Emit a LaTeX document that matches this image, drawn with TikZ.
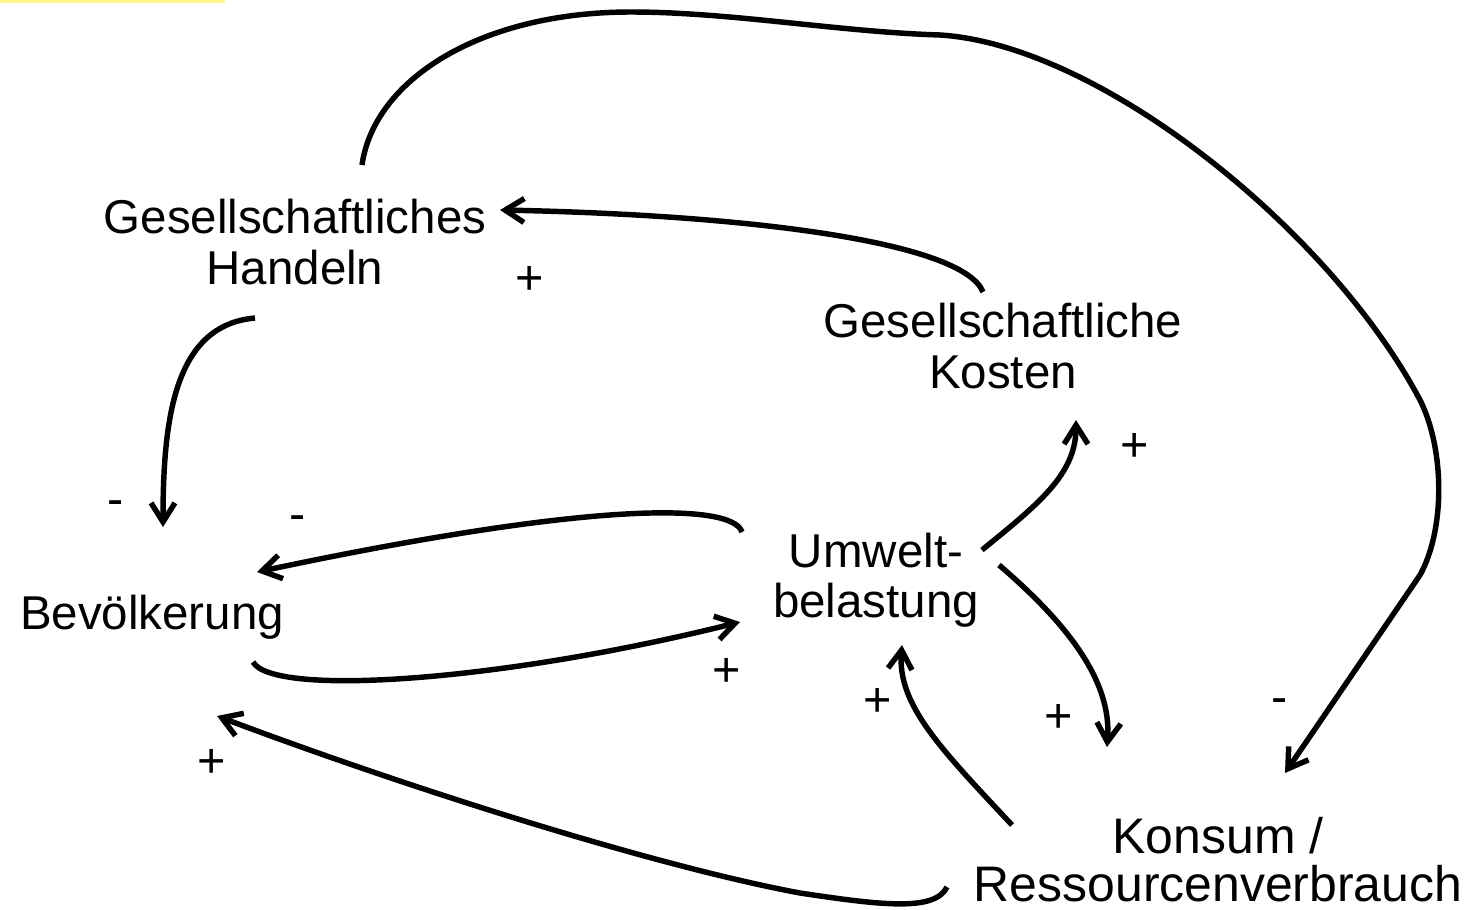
\documentclass[tikz,border=0pt]{standalone}
\usepackage{fontspec}
\setmainfont{Liberation Sans}
\usetikzlibrary{arrows.meta, calc}

\begin{document}
\begin{tikzpicture}[x=0.01cm, y=0.01cm,
  >={Straight Barb[length=5.4pt,width=6.8pt]},
  faktor/.style={align=center, inner sep=0pt, font=\fontsize{13.5}{14.3}\selectfont},
  wirkung/.style={->, line width=1.55pt},
  vz/.style={inner sep=0pt, font=\fontsize{13.8}{14.3}\selectfont}]

% --- Frame ---
\useasboundingbox (0,0) rectangle (1482,-909);
\fill[yellow!45] (0,0) rectangle (225,-2.5);

% --- Factors ---
\node[faktor] (gh) at (295,-242) {Gesellschaftliches\\Handeln};
\node[faktor] (gk) at (1003,-346) {Gesellschaftliche\\Kosten};
\node[faktor] (bev) at (152,-617) {Bevölkerung};
\node[faktor] (umw) at (876,-580) {Umwelt-\\belastung};
\node[faktor, font=\fontsize{14.2}{13.6}\selectfont] (kon) at (1218,-860)
  {Konsum /\\Ressourcenverbrauch};

% --- Links ---
% Handeln -> Konsum (outer loop)
\draw[wirkung] ($(gh)+(67,77)$) .. controls +(12,85) and +(-151,0) .. (631,-12)
  .. controls +(99,0) and +(-100,3) .. (940,-35)
  .. controls +(160,-10) and +(-90,170) .. (1420,-400)
  .. controls +(25,-50) and +(25,45) .. (1420,-575)
  -- ($(kon)+(67,87)$);
\draw[wirkung] ($(gk)+(-20,54)$) .. controls +(-20,50) and +(250,-5) .. ($(gh)+(205,32)$);
\draw[wirkung] ($(gh)+(-40,-76)$) .. controls +(-80,-7) and +(0,110) .. ($(bev)+(11,90)$);
\draw[wirkung] ($(umw)+(-134,48)$) .. controls +(-10,30) and +(330,70) .. ($(bev)+(105,45)$);
\draw[wirkung] ($(bev)+(101,-45)$) .. controls +(20,-35) and +(-240,-60) .. ($(umw)+(-136,-42)$);
\draw[wirkung] ($(umw)+(106,30)$) .. controls +(55,45) and +(0,-55) .. ($(gk)+(73,-74)$);
\draw[wirkung] ($(umw)+(123,15)$) .. controls +(70,-60) and +(5,65) .. ($(kon)+(-111,113)$);
\draw[wirkung] ($(kon)+(-206,35)$) .. controls +(-70,75) and +(-5,-60) .. ($(umw)+(26,-65)$);
\draw[wirkung] ($(kon)+(-271,-27)$) .. controls +(-12,-25) and +(80,-12) .. (800,-893)
  .. controls +(-150,28) and +(183,-69) .. ($(bev)+(65,-99)$);

% --- Signs ---
\node[vz] (s1) at (530,-280) {+};
\node[vz] (s2) at (116,-508) {-};
\node[vz] (s3) at (298,-523) {-};
\node[vz] (s4) at (727,-672) {+};
\node[vz] (s5) at (1135,-447) {+};
\node[vz] (s6) at (878,-702) {+};
\node[vz] (s7) at (1059,-718) {+};
\node[vz] (s8) at (1280,-706) {-};
\node[vz] (s9) at (212,-763) {+};

\end{tikzpicture}
\end{document}
